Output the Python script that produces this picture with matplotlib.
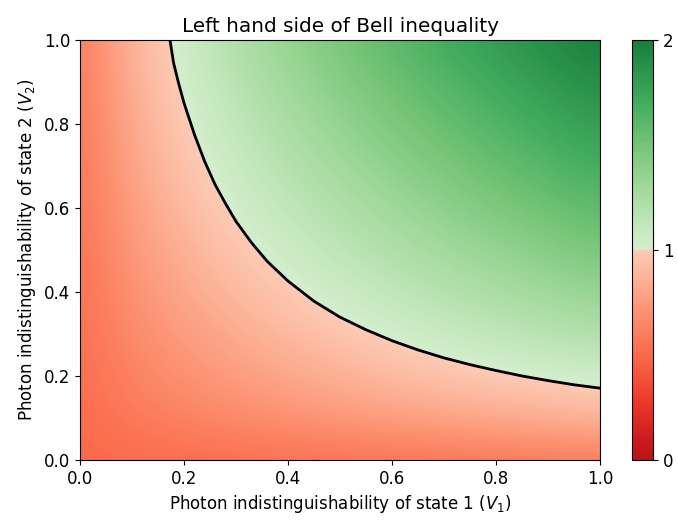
import numpy as np
import matplotlib
matplotlib.use("Agg")
import matplotlib.pyplot as plt
from matplotlib.colors import ListedColormap, Normalize
from matplotlib.cm import ScalarMappable

# --- data ---
v1 = [0.0, 0.1, 0.2, 0.3, 0.4, 0.5, 0.6, 0.7, 0.8, 0.9, 1.0]
v2 = [0.0, 0.1, 0.2, 0.3, 0.4, 0.5, 0.6, 0.7, 0.8, 0.9, 1.0]

# rows: V2 from 0 to 1, columns: V1 from 0 to 1
lhs = [
    [0.500, 0.508, 0.516, 0.524, 0.532, 0.540, 0.548, 0.556, 0.564, 0.572, 0.580],
    [0.508, 0.582, 0.630, 0.670, 0.707, 0.742, 0.773, 0.804, 0.832, 0.859, 0.885],
    [0.516, 0.630, 0.700, 0.760, 0.814, 0.863, 0.910, 0.952, 0.985, 1.015, 1.040],
    [0.524, 0.670, 0.760, 0.836, 0.905, 0.966, 1.024, 1.077, 1.126, 1.174, 1.217],
    [0.532, 0.707, 0.814, 0.905, 0.984, 1.057, 1.124, 1.187, 1.246, 1.300, 1.353],
    [0.540, 0.742, 0.863, 0.966, 1.057, 1.140, 1.216, 1.288, 1.355, 1.417, 1.476],
    [0.548, 0.773, 0.910, 1.024, 1.124, 1.216, 1.301, 1.381, 1.456, 1.525, 1.592],
    [0.556, 0.804, 0.952, 1.077, 1.187, 1.288, 1.381, 1.468, 1.550, 1.628, 1.701],
    [0.564, 0.832, 0.985, 1.126, 1.246, 1.355, 1.456, 1.550, 1.639, 1.725, 1.805],
    [0.572, 0.859, 1.015, 1.174, 1.300, 1.417, 1.525, 1.628, 1.725, 1.816, 1.904],
    [0.580, 0.885, 1.040, 1.217, 1.353, 1.476, 1.592, 1.701, 1.805, 1.904, 2.000],
]

# boundary where the left hand side equals 1 (black curve)
bound_v1 = [0.173, 0.18, 0.19, 0.20, 0.22, 0.24, 0.26, 0.28, 0.30, 0.33, 0.36, 0.40,
            0.45, 0.50, 0.55, 0.60, 0.65, 0.70, 0.75, 0.80, 0.85, 0.90, 0.95, 1.00]
bound_v2 = [1.000, 0.945, 0.895, 0.850, 0.775, 0.710, 0.655, 0.610, 0.568, 0.517, 0.473, 0.426,
            0.378, 0.340, 0.310, 0.284, 0.262, 0.243, 0.227, 0.213, 0.200, 0.189, 0.179, 0.171]

cbar_ticks = [0, 1, 2]


def main():
    plt.rcParams['font.size'] = 12

    # red below the bound, green above it
    reds = plt.get_cmap('Reds')(np.linspace(0.8, 0.2, 128))
    greens = plt.get_cmap('Greens')(np.linspace(0.2, 0.8, 128))
    cmap = ListedColormap(np.vstack([reds, greens]))
    norm = Normalize(vmin=0, vmax=2)

    Z = np.array(lhs)
    dx = (v1[1] - v1[0]) / 2
    dy = (v2[1] - v2[0]) / 2

    fig = plt.figure(figsize=(6.78, 5.26), dpi=100)
    ax = fig.add_axes([0.118, 0.1255, 0.767, 0.7985])
    cax = fig.add_axes([0.932, 0.1255, 0.031, 0.7985])

    # grid points sit on pixel centres, smoothed by the image interpolation
    ax.imshow(Z, origin='lower', cmap=cmap, norm=norm, aspect='auto',
              interpolation='bicubic', interpolation_stage='data',
              extent=(v1[0] - dx, v1[-1] + dx, v2[0] - dy, v2[-1] + dy))
    ax.plot(bound_v1, bound_v2, color='black', linewidth=2)

    ax.set_xlim(0, 1)
    ax.set_ylim(0, 1)
    ax.set_xlabel('Photon indistinguishability of state 1 ($V_1$)')
    ax.set_ylabel('Photon indistinguishability of state 2 ($V_2$)')
    ax.set_title('Left hand side of Bell inequality')

    sm = ScalarMappable(norm=norm, cmap=cmap)
    fig.colorbar(sm, cax=cax, ticks=cbar_ticks)

    fig.savefig('out.png', dpi=100)


if __name__ == "__main__":
    main()
